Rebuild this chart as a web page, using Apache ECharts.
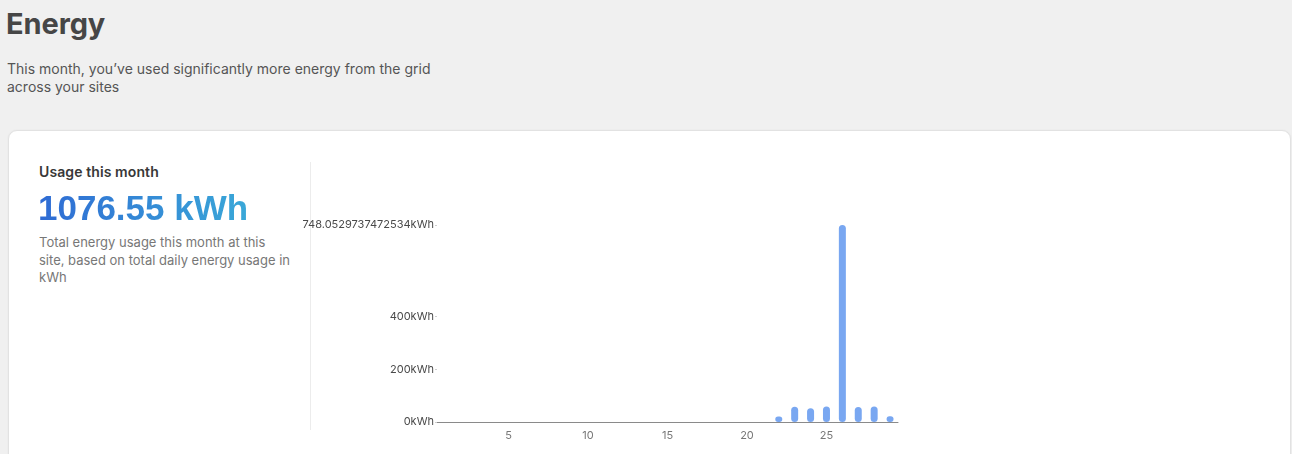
<!DOCTYPE html>
<html>
<head>
<meta charset="utf-8">
<script src="https://cdn.jsdelivr.net/npm/echarts@6/dist/echarts.min.js"></script>
<style>
  html,body{margin:0;padding:0;}
  body{width:1292px;height:454px;overflow:hidden;background:#f0f0f0;position:relative;font-family:Inter,"Noto Sans",sans-serif;}
  #title{position:absolute;left:6px;top:6px;font-size:29px;font-weight:700;color:#464646;letter-spacing:-0.1px;}
  #sub{position:absolute;left:7px;top:60px;width:440px;font-size:14px;line-height:18px;color:#555;}
  #card{position:absolute;left:8px;top:130px;width:1281px;height:400px;background:#fff;border:1px solid #e2e2e2;border-radius:9px;box-shadow:0 0 2px rgba(0,0,0,0.06);}
  #lab{position:absolute;left:39px;top:163px;font-size:14px;font-weight:600;color:#383838;letter-spacing:0.1px;}
  #big{position:absolute;left:38px;top:188px;font-family:"Liberation Sans",Arial,sans-serif;font-weight:700;font-size:35px;
       background:linear-gradient(90deg,#2f6bd4,#3aa8d8);-webkit-background-clip:text;background-clip:text;color:transparent;}
  #desc{position:absolute;left:39px;top:234px;width:270px;font-size:13px;line-height:17.5px;color:#777;white-space:nowrap;}
  #div{position:absolute;left:310px;top:162px;width:1px;height:268px;background:#ececec;}
  #chart{position:absolute;left:0;top:0;width:1292px;height:454px;}
</style>
</head>
<body>
<div id="title">Energy</div>
<div id="sub">This month, you’ve used significantly more energy from the grid across your sites</div>
<div id="card"></div>
<div id="lab">Usage this month</div>
<div id="big">1076.55 kWh</div>
<div id="desc">Total energy usage this month at this<br>site, based on total daily energy usage in<br>kWh</div>
<div id="div"></div>
<div id="chart"></div>
<script>
const days = [1,2,3,4,5,6,7,8,9,10,11,12,13,14,15,16,17,18,19,20,21,22,23,24,25,26,27,28,29];
const usage = [0,0,0,0,0,0,0,0,0,0,0,0,0,0,0,0,0,0,0,0,0,21,58,52,59,748.0529737472534,57,59,22];
const yTicks = [0,200,400,748.0529737472534];
const yMax = 748.0529737472534;

const chart = echarts.init(document.getElementById('chart'));
chart.setOption({
  animation:false,
  backgroundColor:'transparent',
  grid:{left:437,top:225,width:461,height:197,containLabel:false},
  xAxis:{
    type:'category',
    data:days,
    boundaryGap:true,
    axisLine:{show:true,lineStyle:{color:'#8a8a8a',width:1}},
    axisTick:{show:false},
    axisLabel:{
      color:'#777',fontSize:11,fontFamily:'Inter',margin:8,
      interval:function(i,v){return (i+1)%5===0;}
    },
    splitLine:{show:false}
  },
  yAxis:{
    type:'value',
    min:0,max:yMax,
    axisLine:{show:false},
    axisTick:{show:true,length:2,lineStyle:{color:'#cfcfcf'},customValues:yTicks},
    axisLabel:{color:'#4a4a4a',fontSize:11,fontFamily:'Inter',margin:3,customValues:yTicks,
      formatter:function(v){return v+'kWh';}},
    splitLine:{show:false}
  },
  series:[{
    type:'bar',
    data:usage,
    barWidth:7,
    itemStyle:{color:'#79a7f1',borderRadius:[4,4,4,4]}
  }]
});
</script>
</body>
</html>
